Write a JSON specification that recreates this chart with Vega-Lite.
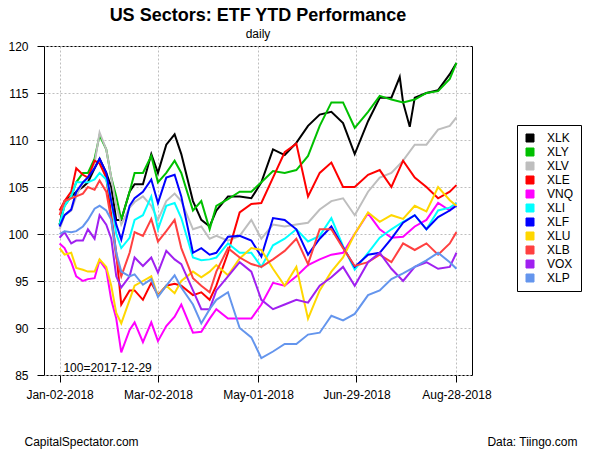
{
"$schema": "https://vega.github.io/schema/vega-lite/v6.json",
"width": 428, "height": 329,
"autosize": {"type": "none"},
"padding": {"left": 44, "top": 46, "right": 128, "bottom": 75},
"background": "white",
"config": {"font": "Liberation Sans", "view": {"stroke": "black", "strokeWidth": 1}},
"title": {"text": "US Sectors: ETF YTD Performance", "subtitle": "daily", "anchor": "middle", "fontSize": 18, "fontWeight": "bold", "color": "black", "subtitleFontSize": 12, "subtitleColor": "black", "subtitlePadding": 4, "offset": 0},
"layer": [
{
"data": {"values": [
{"d":"2018-01-02","s":"XLK","v":101},{"d":"2018-01-05","s":"XLK","v":103.5},{"d":"2018-01-09","s":"XLK","v":104},{"d":"2018-01-12","s":"XLK","v":104.5},{"d":"2018-01-16","s":"XLK","v":105},{"d":"2018-01-19","s":"XLK","v":105.5},{"d":"2018-01-23","s":"XLK","v":107},{"d":"2018-01-26","s":"XLK","v":108},{"d":"2018-01-30","s":"XLK","v":106.5},{"d":"2018-02-02","s":"XLK","v":105},{"d":"2018-02-05","s":"XLK","v":101.5},{"d":"2018-02-08","s":"XLK","v":101.5},{"d":"2018-02-13","s":"XLK","v":104.5},{"d":"2018-02-16","s":"XLK","v":105.3},{"d":"2018-02-21","s":"XLK","v":105.3},{"d":"2018-02-26","s":"XLK","v":108.5},{"d":"2018-03-02","s":"XLK","v":106.5},{"d":"2018-03-07","s":"XLK","v":109.5},{"d":"2018-03-12","s":"XLK","v":110.6},{"d":"2018-03-16","s":"XLK","v":108.5},{"d":"2018-03-23","s":"XLK","v":103.5},{"d":"2018-03-28","s":"XLK","v":101.5},{"d":"2018-04-02","s":"XLK","v":100.8},{"d":"2018-04-06","s":"XLK","v":102.5},{"d":"2018-04-13","s":"XLK","v":104},{"d":"2018-04-20","s":"XLK","v":104},{"d":"2018-04-27","s":"XLK","v":103.8},{"d":"2018-05-03","s":"XLK","v":105.5},{"d":"2018-05-10","s":"XLK","v":109},{"d":"2018-05-17","s":"XLK","v":108.4},{"d":"2018-05-24","s":"XLK","v":109.7},{"d":"2018-05-31","s":"XLK","v":111.5},{"d":"2018-06-07","s":"XLK","v":112.7},{"d":"2018-06-14","s":"XLK","v":113},{"d":"2018-06-21","s":"XLK","v":111.8},{"d":"2018-06-28","s":"XLK","v":108.5},{"d":"2018-07-06","s":"XLK","v":112},{"d":"2018-07-13","s":"XLK","v":114.5},{"d":"2018-07-20","s":"XLK","v":114.5},{"d":"2018-07-25","s":"XLK","v":116.7},{"d":"2018-07-27","s":"XLK","v":114},{"d":"2018-07-31","s":"XLK","v":111.4},{"d":"2018-08-03","s":"XLK","v":114.5},{"d":"2018-08-10","s":"XLK","v":115},{"d":"2018-08-17","s":"XLK","v":115.3},{"d":"2018-08-24","s":"XLK","v":117},{"d":"2018-08-28","s":"XLK","v":118.2},
{"d":"2018-01-02","s":"XLY","v":101},{"d":"2018-01-05","s":"XLY","v":103},{"d":"2018-01-09","s":"XLY","v":104},{"d":"2018-01-12","s":"XLY","v":105.5},{"d":"2018-01-16","s":"XLY","v":106.5},{"d":"2018-01-19","s":"XLY","v":106.5},{"d":"2018-01-23","s":"XLY","v":108},{"d":"2018-01-26","s":"XLY","v":110.5},{"d":"2018-01-30","s":"XLY","v":109},{"d":"2018-02-02","s":"XLY","v":106},{"d":"2018-02-05","s":"XLY","v":104},{"d":"2018-02-08","s":"XLY","v":101.5},{"d":"2018-02-13","s":"XLY","v":104.5},{"d":"2018-02-16","s":"XLY","v":106.5},{"d":"2018-02-21","s":"XLY","v":106.5},{"d":"2018-02-26","s":"XLY","v":108.3},{"d":"2018-03-02","s":"XLY","v":105.5},{"d":"2018-03-07","s":"XLY","v":106.5},{"d":"2018-03-12","s":"XLY","v":107.8},{"d":"2018-03-16","s":"XLY","v":106.5},{"d":"2018-03-23","s":"XLY","v":102.5},{"d":"2018-03-28","s":"XLY","v":103.5},{"d":"2018-04-02","s":"XLY","v":100.5},{"d":"2018-04-06","s":"XLY","v":103},{"d":"2018-04-13","s":"XLY","v":103.7},{"d":"2018-04-20","s":"XLY","v":104.5},{"d":"2018-04-27","s":"XLY","v":104.5},{"d":"2018-05-03","s":"XLY","v":105.5},{"d":"2018-05-10","s":"XLY","v":106.7},{"d":"2018-05-17","s":"XLY","v":106.5},{"d":"2018-05-24","s":"XLY","v":106.8},{"d":"2018-05-31","s":"XLY","v":108.3},{"d":"2018-06-07","s":"XLY","v":111.5},{"d":"2018-06-14","s":"XLY","v":114},{"d":"2018-06-21","s":"XLY","v":114},{"d":"2018-06-28","s":"XLY","v":111.3},{"d":"2018-07-06","s":"XLY","v":113},{"d":"2018-07-13","s":"XLY","v":114.7},{"d":"2018-07-20","s":"XLY","v":114.3},{"d":"2018-07-27","s":"XLY","v":114},{"d":"2018-08-03","s":"XLY","v":114.3},{"d":"2018-08-10","s":"XLY","v":115},{"d":"2018-08-17","s":"XLY","v":115.2},{"d":"2018-08-24","s":"XLY","v":116.5},{"d":"2018-08-28","s":"XLY","v":118.2},
{"d":"2018-01-02","s":"XLV","v":100.5},{"d":"2018-01-05","s":"XLV","v":102},{"d":"2018-01-09","s":"XLV","v":102.5},{"d":"2018-01-12","s":"XLV","v":104},{"d":"2018-01-16","s":"XLV","v":105.5},{"d":"2018-01-19","s":"XLV","v":106},{"d":"2018-01-23","s":"XLV","v":107.5},{"d":"2018-01-26","s":"XLV","v":110.8},{"d":"2018-01-30","s":"XLV","v":109},{"d":"2018-02-02","s":"XLV","v":106},{"d":"2018-02-05","s":"XLV","v":103},{"d":"2018-02-08","s":"XLV","v":101},{"d":"2018-02-13","s":"XLV","v":102.8},{"d":"2018-02-16","s":"XLV","v":103.4},{"d":"2018-02-21","s":"XLV","v":104},{"d":"2018-02-26","s":"XLV","v":103},{"d":"2018-03-02","s":"XLV","v":101.5},{"d":"2018-03-07","s":"XLV","v":103.5},{"d":"2018-03-12","s":"XLV","v":104.3},{"d":"2018-03-16","s":"XLV","v":103.5},{"d":"2018-03-23","s":"XLV","v":100.5},{"d":"2018-03-28","s":"XLV","v":100.8},{"d":"2018-04-02","s":"XLV","v":99.5},{"d":"2018-04-06","s":"XLV","v":99.8},{"d":"2018-04-13","s":"XLV","v":99.3},{"d":"2018-04-20","s":"XLV","v":99.8},{"d":"2018-04-27","s":"XLV","v":101.5},{"d":"2018-05-03","s":"XLV","v":99.5},{"d":"2018-05-10","s":"XLV","v":101},{"d":"2018-05-17","s":"XLV","v":100.8},{"d":"2018-05-24","s":"XLV","v":101},{"d":"2018-05-31","s":"XLV","v":101.2},{"d":"2018-06-07","s":"XLV","v":102.6},{"d":"2018-06-14","s":"XLV","v":103.5},{"d":"2018-06-21","s":"XLV","v":103.8},{"d":"2018-06-28","s":"XLV","v":102},{"d":"2018-07-06","s":"XLV","v":104.5},{"d":"2018-07-13","s":"XLV","v":106},{"d":"2018-07-20","s":"XLV","v":106.5},{"d":"2018-07-27","s":"XLV","v":107.8},{"d":"2018-08-03","s":"XLV","v":109.5},{"d":"2018-08-10","s":"XLV","v":109.5},{"d":"2018-08-17","s":"XLV","v":111.1},{"d":"2018-08-24","s":"XLV","v":111.5},{"d":"2018-08-28","s":"XLV","v":112.4},
{"d":"2018-01-02","s":"XLE","v":102.5},{"d":"2018-01-05","s":"XLE","v":103.5},{"d":"2018-01-09","s":"XLE","v":104.5},{"d":"2018-01-12","s":"XLE","v":107},{"d":"2018-01-16","s":"XLE","v":106.3},{"d":"2018-01-19","s":"XLE","v":106},{"d":"2018-01-23","s":"XLE","v":107.8},{"d":"2018-01-26","s":"XLE","v":107.5},{"d":"2018-01-30","s":"XLE","v":106},{"d":"2018-02-02","s":"XLE","v":102},{"d":"2018-02-05","s":"XLE","v":98},{"d":"2018-02-08","s":"XLE","v":92.5},{"d":"2018-02-13","s":"XLE","v":94},{"d":"2018-02-16","s":"XLE","v":94},{"d":"2018-02-21","s":"XLE","v":93},{"d":"2018-02-26","s":"XLE","v":94.8},{"d":"2018-03-02","s":"XLE","v":93.5},{"d":"2018-03-07","s":"XLE","v":94.5},{"d":"2018-03-12","s":"XLE","v":94.7},{"d":"2018-03-16","s":"XLE","v":94.5},{"d":"2018-03-23","s":"XLE","v":93.5},{"d":"2018-03-28","s":"XLE","v":93.8},{"d":"2018-04-02","s":"XLE","v":93},{"d":"2018-04-06","s":"XLE","v":94.5},{"d":"2018-04-13","s":"XLE","v":98},{"d":"2018-04-20","s":"XLE","v":102.3},{"d":"2018-04-27","s":"XLE","v":103.2},{"d":"2018-05-03","s":"XLE","v":103.3},{"d":"2018-05-10","s":"XLE","v":106},{"d":"2018-05-17","s":"XLE","v":108.7},{"d":"2018-05-24","s":"XLE","v":109.6},{"d":"2018-05-31","s":"XLE","v":104},{"d":"2018-06-07","s":"XLE","v":106.5},{"d":"2018-06-14","s":"XLE","v":107.6},{"d":"2018-06-21","s":"XLE","v":105},{"d":"2018-06-28","s":"XLE","v":105},{"d":"2018-07-06","s":"XLE","v":106.3},{"d":"2018-07-13","s":"XLE","v":106.8},{"d":"2018-07-20","s":"XLE","v":105},{"d":"2018-07-27","s":"XLE","v":107.8},{"d":"2018-08-03","s":"XLE","v":106},{"d":"2018-08-10","s":"XLE","v":105},{"d":"2018-08-17","s":"XLE","v":103.8},{"d":"2018-08-24","s":"XLE","v":104.5},{"d":"2018-08-28","s":"XLE","v":105.2},
{"d":"2018-01-02","s":"VNQ","v":99},{"d":"2018-01-05","s":"VNQ","v":98.5},{"d":"2018-01-09","s":"VNQ","v":97},{"d":"2018-01-12","s":"VNQ","v":95.5},{"d":"2018-01-16","s":"VNQ","v":95},{"d":"2018-01-19","s":"VNQ","v":95.2},{"d":"2018-01-23","s":"VNQ","v":95.3},{"d":"2018-01-26","s":"VNQ","v":97.2},{"d":"2018-01-30","s":"VNQ","v":96.2},{"d":"2018-02-02","s":"VNQ","v":93},{"d":"2018-02-05","s":"VNQ","v":91},{"d":"2018-02-08","s":"VNQ","v":87.4},{"d":"2018-02-13","s":"VNQ","v":89.8},{"d":"2018-02-16","s":"VNQ","v":90.6},{"d":"2018-02-21","s":"VNQ","v":88.5},{"d":"2018-02-26","s":"VNQ","v":90.6},{"d":"2018-03-02","s":"VNQ","v":88.6},{"d":"2018-03-07","s":"VNQ","v":90.2},{"d":"2018-03-12","s":"VNQ","v":91.2},{"d":"2018-03-16","s":"VNQ","v":92.5},{"d":"2018-03-23","s":"VNQ","v":89.5},{"d":"2018-03-28","s":"VNQ","v":89.6},{"d":"2018-04-02","s":"VNQ","v":91},{"d":"2018-04-06","s":"VNQ","v":92},{"d":"2018-04-13","s":"VNQ","v":91},{"d":"2018-04-20","s":"VNQ","v":91},{"d":"2018-04-27","s":"VNQ","v":91},{"d":"2018-05-03","s":"VNQ","v":92.5},{"d":"2018-05-10","s":"VNQ","v":94.8},{"d":"2018-05-17","s":"VNQ","v":94.5},{"d":"2018-05-24","s":"VNQ","v":95.5},{"d":"2018-05-31","s":"VNQ","v":96.7},{"d":"2018-06-07","s":"VNQ","v":97.3},{"d":"2018-06-14","s":"VNQ","v":97.8},{"d":"2018-06-21","s":"VNQ","v":98},{"d":"2018-06-28","s":"VNQ","v":100},{"d":"2018-07-06","s":"VNQ","v":102.2},{"d":"2018-07-13","s":"VNQ","v":100.5},{"d":"2018-07-20","s":"VNQ","v":99.6},{"d":"2018-07-27","s":"VNQ","v":99.7},{"d":"2018-08-03","s":"VNQ","v":100.8},{"d":"2018-08-10","s":"VNQ","v":101.5},{"d":"2018-08-17","s":"VNQ","v":103.3},{"d":"2018-08-24","s":"VNQ","v":102.5},{"d":"2018-08-28","s":"VNQ","v":103.3},
{"d":"2018-01-02","s":"XLI","v":101},{"d":"2018-01-05","s":"XLI","v":103},{"d":"2018-01-09","s":"XLI","v":104},{"d":"2018-01-12","s":"XLI","v":105.5},{"d":"2018-01-16","s":"XLI","v":105.5},{"d":"2018-01-19","s":"XLI","v":105.5},{"d":"2018-01-23","s":"XLI","v":105.8},{"d":"2018-01-26","s":"XLI","v":106.5},{"d":"2018-01-30","s":"XLI","v":105.8},{"d":"2018-02-02","s":"XLI","v":103.5},{"d":"2018-02-05","s":"XLI","v":100},{"d":"2018-02-08","s":"XLI","v":98.5},{"d":"2018-02-13","s":"XLI","v":99.6},{"d":"2018-02-16","s":"XLI","v":101.5},{"d":"2018-02-21","s":"XLI","v":102},{"d":"2018-02-26","s":"XLI","v":104},{"d":"2018-03-02","s":"XLI","v":100.5},{"d":"2018-03-07","s":"XLI","v":103},{"d":"2018-03-12","s":"XLI","v":103.3},{"d":"2018-03-16","s":"XLI","v":101.7},{"d":"2018-03-23","s":"XLI","v":97.5},{"d":"2018-03-28","s":"XLI","v":97.2},{"d":"2018-04-02","s":"XLI","v":97.3},{"d":"2018-04-06","s":"XLI","v":97.5},{"d":"2018-04-13","s":"XLI","v":99},{"d":"2018-04-20","s":"XLI","v":98},{"d":"2018-04-27","s":"XLI","v":98},{"d":"2018-05-03","s":"XLI","v":96.5},{"d":"2018-05-10","s":"XLI","v":98.8},{"d":"2018-05-17","s":"XLI","v":99.5},{"d":"2018-05-24","s":"XLI","v":100.5},{"d":"2018-05-31","s":"XLI","v":99.2},{"d":"2018-06-07","s":"XLI","v":99.8},{"d":"2018-06-14","s":"XLI","v":101.7},{"d":"2018-06-21","s":"XLI","v":98.7},{"d":"2018-06-28","s":"XLI","v":96.2},{"d":"2018-07-06","s":"XLI","v":98},{"d":"2018-07-13","s":"XLI","v":99.6},{"d":"2018-07-20","s":"XLI","v":100.5},{"d":"2018-07-27","s":"XLI","v":101.3},{"d":"2018-08-03","s":"XLI","v":102},{"d":"2018-08-10","s":"XLI","v":100.5},{"d":"2018-08-17","s":"XLI","v":102.5},{"d":"2018-08-24","s":"XLI","v":102.8},{"d":"2018-08-28","s":"XLI","v":103.3},
{"d":"2018-01-02","s":"XLF","v":100.8},{"d":"2018-01-05","s":"XLF","v":102},{"d":"2018-01-09","s":"XLF","v":102.6},{"d":"2018-01-12","s":"XLF","v":104.5},{"d":"2018-01-16","s":"XLF","v":105.5},{"d":"2018-01-19","s":"XLF","v":106},{"d":"2018-01-23","s":"XLF","v":107},{"d":"2018-01-26","s":"XLF","v":108},{"d":"2018-01-30","s":"XLF","v":106.5},{"d":"2018-02-02","s":"XLF","v":103.5},{"d":"2018-02-05","s":"XLF","v":101},{"d":"2018-02-08","s":"XLF","v":99.4},{"d":"2018-02-13","s":"XLF","v":103},{"d":"2018-02-16","s":"XLF","v":103.8},{"d":"2018-02-21","s":"XLF","v":104.5},{"d":"2018-02-26","s":"XLF","v":105.8},{"d":"2018-03-02","s":"XLF","v":103.3},{"d":"2018-03-07","s":"XLF","v":106},{"d":"2018-03-12","s":"XLF","v":106.3},{"d":"2018-03-16","s":"XLF","v":104},{"d":"2018-03-23","s":"XLF","v":98},{"d":"2018-03-28","s":"XLF","v":98.5},{"d":"2018-04-02","s":"XLF","v":97.8},{"d":"2018-04-06","s":"XLF","v":98},{"d":"2018-04-13","s":"XLF","v":99.7},{"d":"2018-04-20","s":"XLF","v":99.8},{"d":"2018-04-27","s":"XLF","v":99.3},{"d":"2018-05-03","s":"XLF","v":97.6},{"d":"2018-05-10","s":"XLF","v":101.7},{"d":"2018-05-17","s":"XLF","v":101.5},{"d":"2018-05-24","s":"XLF","v":100.5},{"d":"2018-05-31","s":"XLF","v":97.8},{"d":"2018-06-07","s":"XLF","v":99.5},{"d":"2018-06-14","s":"XLF","v":100.8},{"d":"2018-06-21","s":"XLF","v":98.6},{"d":"2018-06-28","s":"XLF","v":96.5},{"d":"2018-07-06","s":"XLF","v":97.8},{"d":"2018-07-13","s":"XLF","v":98},{"d":"2018-07-20","s":"XLF","v":99.5},{"d":"2018-07-27","s":"XLF","v":101.2},{"d":"2018-08-03","s":"XLF","v":102},{"d":"2018-08-10","s":"XLF","v":100.5},{"d":"2018-08-17","s":"XLF","v":101.8},{"d":"2018-08-24","s":"XLF","v":102.5},{"d":"2018-08-28","s":"XLF","v":103},
{"d":"2018-01-02","s":"XLU","v":98.5},{"d":"2018-01-05","s":"XLU","v":97.8},{"d":"2018-01-09","s":"XLU","v":98},{"d":"2018-01-12","s":"XLU","v":96.4},{"d":"2018-01-16","s":"XLU","v":96.2},{"d":"2018-01-19","s":"XLU","v":96},{"d":"2018-01-23","s":"XLU","v":96},{"d":"2018-01-26","s":"XLU","v":97.3},{"d":"2018-01-30","s":"XLU","v":96.5},{"d":"2018-02-02","s":"XLU","v":94.5},{"d":"2018-02-05","s":"XLU","v":91.6},{"d":"2018-02-08","s":"XLU","v":90.5},{"d":"2018-02-13","s":"XLU","v":93},{"d":"2018-02-16","s":"XLU","v":94.5},{"d":"2018-02-21","s":"XLU","v":95},{"d":"2018-02-26","s":"XLU","v":95.5},{"d":"2018-03-02","s":"XLU","v":93.4},{"d":"2018-03-07","s":"XLU","v":94.5},{"d":"2018-03-12","s":"XLU","v":93.7},{"d":"2018-03-16","s":"XLU","v":95},{"d":"2018-03-23","s":"XLU","v":96},{"d":"2018-03-28","s":"XLU","v":95.4},{"d":"2018-04-02","s":"XLU","v":96},{"d":"2018-04-06","s":"XLU","v":96.7},{"d":"2018-04-13","s":"XLU","v":95.6},{"d":"2018-04-20","s":"XLU","v":97.4},{"d":"2018-04-27","s":"XLU","v":98.5},{"d":"2018-05-03","s":"XLU","v":98.3},{"d":"2018-05-10","s":"XLU","v":96.3},{"d":"2018-05-17","s":"XLU","v":94.5},{"d":"2018-05-24","s":"XLU","v":96.5},{"d":"2018-05-31","s":"XLU","v":91},{"d":"2018-06-07","s":"XLU","v":94},{"d":"2018-06-14","s":"XLU","v":96},{"d":"2018-06-21","s":"XLU","v":97.5},{"d":"2018-06-28","s":"XLU","v":100},{"d":"2018-07-06","s":"XLU","v":102.3},{"d":"2018-07-13","s":"XLU","v":101.3},{"d":"2018-07-20","s":"XLU","v":102},{"d":"2018-07-27","s":"XLU","v":101.6},{"d":"2018-08-03","s":"XLU","v":103},{"d":"2018-08-10","s":"XLU","v":102.4},{"d":"2018-08-17","s":"XLU","v":105},{"d":"2018-08-24","s":"XLU","v":103.6},{"d":"2018-08-28","s":"XLU","v":103},
{"d":"2018-01-02","s":"XLB","v":102},{"d":"2018-01-05","s":"XLB","v":103.5},{"d":"2018-01-09","s":"XLB","v":103.8},{"d":"2018-01-12","s":"XLB","v":104},{"d":"2018-01-16","s":"XLB","v":104.3},{"d":"2018-01-19","s":"XLB","v":105},{"d":"2018-01-23","s":"XLB","v":104.7},{"d":"2018-01-26","s":"XLB","v":105.7},{"d":"2018-01-30","s":"XLB","v":104.5},{"d":"2018-02-02","s":"XLB","v":101.5},{"d":"2018-02-05","s":"XLB","v":97.5},{"d":"2018-02-08","s":"XLB","v":95.5},{"d":"2018-02-13","s":"XLB","v":98},{"d":"2018-02-16","s":"XLB","v":100.2},{"d":"2018-02-21","s":"XLB","v":99.8},{"d":"2018-02-26","s":"XLB","v":101.6},{"d":"2018-03-02","s":"XLB","v":99.2},{"d":"2018-03-07","s":"XLB","v":100.3},{"d":"2018-03-12","s":"XLB","v":101.5},{"d":"2018-03-16","s":"XLB","v":98.5},{"d":"2018-03-23","s":"XLB","v":95.3},{"d":"2018-03-28","s":"XLB","v":94.5},{"d":"2018-04-02","s":"XLB","v":93.8},{"d":"2018-04-06","s":"XLB","v":96},{"d":"2018-04-13","s":"XLB","v":98.5},{"d":"2018-04-20","s":"XLB","v":97.5},{"d":"2018-04-27","s":"XLB","v":96.8},{"d":"2018-05-03","s":"XLB","v":96.5},{"d":"2018-05-10","s":"XLB","v":97.3},{"d":"2018-05-17","s":"XLB","v":98.2},{"d":"2018-05-24","s":"XLB","v":99.5},{"d":"2018-05-31","s":"XLB","v":96.8},{"d":"2018-06-07","s":"XLB","v":100.5},{"d":"2018-06-14","s":"XLB","v":100.5},{"d":"2018-06-21","s":"XLB","v":98.5},{"d":"2018-06-28","s":"XLB","v":96.6},{"d":"2018-07-06","s":"XLB","v":97},{"d":"2018-07-13","s":"XLB","v":97.8},{"d":"2018-07-20","s":"XLB","v":97},{"d":"2018-07-27","s":"XLB","v":99},{"d":"2018-08-03","s":"XLB","v":98.3},{"d":"2018-08-10","s":"XLB","v":99},{"d":"2018-08-17","s":"XLB","v":97.8},{"d":"2018-08-24","s":"XLB","v":99},{"d":"2018-08-28","s":"XLB","v":100.2},
{"d":"2018-01-02","s":"VOX","v":99.6},{"d":"2018-01-05","s":"VOX","v":100.2},{"d":"2018-01-09","s":"VOX","v":99},{"d":"2018-01-12","s":"VOX","v":99.3},{"d":"2018-01-16","s":"VOX","v":99.3},{"d":"2018-01-19","s":"VOX","v":100.5},{"d":"2018-01-23","s":"VOX","v":99.5},{"d":"2018-01-26","s":"VOX","v":102},{"d":"2018-01-30","s":"VOX","v":101},{"d":"2018-02-02","s":"VOX","v":99.5},{"d":"2018-02-05","s":"VOX","v":95.5},{"d":"2018-02-08","s":"VOX","v":94.3},{"d":"2018-02-13","s":"VOX","v":95.5},{"d":"2018-02-16","s":"VOX","v":97.5},{"d":"2018-02-21","s":"VOX","v":96.6},{"d":"2018-02-26","s":"VOX","v":97.5},{"d":"2018-03-02","s":"VOX","v":95.9},{"d":"2018-03-07","s":"VOX","v":98.2},{"d":"2018-03-12","s":"VOX","v":97.3},{"d":"2018-03-16","s":"VOX","v":96.8},{"d":"2018-03-23","s":"VOX","v":94},{"d":"2018-03-28","s":"VOX","v":92},{"d":"2018-04-02","s":"VOX","v":92},{"d":"2018-04-06","s":"VOX","v":94},{"d":"2018-04-13","s":"VOX","v":95.5},{"d":"2018-04-20","s":"VOX","v":97},{"d":"2018-04-27","s":"VOX","v":96},{"d":"2018-05-03","s":"VOX","v":93},{"d":"2018-05-10","s":"VOX","v":92},{"d":"2018-05-17","s":"VOX","v":92.5},{"d":"2018-05-24","s":"VOX","v":93},{"d":"2018-05-31","s":"VOX","v":92.7},{"d":"2018-06-07","s":"VOX","v":94.5},{"d":"2018-06-14","s":"VOX","v":95.4},{"d":"2018-06-21","s":"VOX","v":96.5},{"d":"2018-06-28","s":"VOX","v":94.5},{"d":"2018-07-06","s":"VOX","v":97},{"d":"2018-07-13","s":"VOX","v":98},{"d":"2018-07-20","s":"VOX","v":96.3},{"d":"2018-07-27","s":"VOX","v":95},{"d":"2018-08-03","s":"VOX","v":96.5},{"d":"2018-08-10","s":"VOX","v":97},{"d":"2018-08-17","s":"VOX","v":96.3},{"d":"2018-08-24","s":"VOX","v":96.5},{"d":"2018-08-28","s":"VOX","v":98},
{"d":"2018-01-02","s":"XLP","v":100},{"d":"2018-01-05","s":"XLP","v":100.3},{"d":"2018-01-09","s":"XLP","v":100.2},{"d":"2018-01-12","s":"XLP","v":100.3},{"d":"2018-01-16","s":"XLP","v":100.8},{"d":"2018-01-19","s":"XLP","v":101.5},{"d":"2018-01-23","s":"XLP","v":102.7},{"d":"2018-01-26","s":"XLP","v":103},{"d":"2018-01-30","s":"XLP","v":102.5},{"d":"2018-02-02","s":"XLP","v":101.5},{"d":"2018-02-05","s":"XLP","v":98},{"d":"2018-02-08","s":"XLP","v":96},{"d":"2018-02-13","s":"XLP","v":95.5},{"d":"2018-02-16","s":"XLP","v":95.7},{"d":"2018-02-21","s":"XLP","v":94.6},{"d":"2018-02-26","s":"XLP","v":95.2},{"d":"2018-03-02","s":"XLP","v":93.3},{"d":"2018-03-07","s":"XLP","v":94.5},{"d":"2018-03-12","s":"XLP","v":95.6},{"d":"2018-03-16","s":"XLP","v":94.3},{"d":"2018-03-23","s":"XLP","v":92.5},{"d":"2018-03-28","s":"XLP","v":90.5},{"d":"2018-04-02","s":"XLP","v":92},{"d":"2018-04-06","s":"XLP","v":93},{"d":"2018-04-13","s":"XLP","v":93.8},{"d":"2018-04-20","s":"XLP","v":90},{"d":"2018-04-27","s":"XLP","v":89},{"d":"2018-05-03","s":"XLP","v":86.8},{"d":"2018-05-10","s":"XLP","v":87.5},{"d":"2018-05-17","s":"XLP","v":88.3},{"d":"2018-05-24","s":"XLP","v":88.3},{"d":"2018-05-31","s":"XLP","v":89.3},{"d":"2018-06-07","s":"XLP","v":89.5},{"d":"2018-06-14","s":"XLP","v":91.3},{"d":"2018-06-21","s":"XLP","v":90.8},{"d":"2018-06-28","s":"XLP","v":91.5},{"d":"2018-07-06","s":"XLP","v":93.5},{"d":"2018-07-13","s":"XLP","v":94},{"d":"2018-07-20","s":"XLP","v":95.2},{"d":"2018-07-27","s":"XLP","v":95.8},{"d":"2018-08-03","s":"XLP","v":96.5},{"d":"2018-08-10","s":"XLP","v":97.2},{"d":"2018-08-17","s":"XLP","v":98},{"d":"2018-08-24","s":"XLP","v":97},{"d":"2018-08-28","s":"XLP","v":96.3}
]},
"mark": {"type": "line", "strokeWidth": 2},
"encoding": {
"x": {"field": "d", "type": "temporal",
 "scale": {"type": "utc", "domain": [{"year": 2017, "month": 12, "date": 23, "hours": 16, "utc": true}, {"year": 2018, "month": 9, "date": 6, "hours": 8, "utc": true}]},
 "axis": {"values": [{"year": 2018, "month": 1, "date": 2, "utc": true}, {"year": 2018, "month": 3, "date": 2, "utc": true}, {"year": 2018, "month": 5, "date": 1, "utc": true}, {"year": 2018, "month": 6, "date": 29, "utc": true}, {"year": 2018, "month": 8, "date": 28, "utc": true}],
  "labelExpr": "utcFormat(datum.value, '%b-%d-%Y')", "labelFontSize": 12, "labelColor": "black", "labelPadding": 7, "labelFlush": false, "labelOverlap": false,
  "tickSize": 7, "tickColor": "black", "domain": false,
  "grid": true, "gridColor": "#BEBEBE", "gridDash": [2, 2], "gridWidth": 1,
  "title": "CapitalSpectator.com", "titleX": -20, "titleY": 70, "titleAlign": "left", "titleAnchor": "start", "titleBaseline": "alphabetic", "titleFontWeight": "normal", "titleFontSize": 12, "titleColor": "black"}},
"y": {"field": "v", "type": "quantitative",
 "scale": {"domain": [85, 120], "nice": false, "zero": false},
 "axis": {"values": [85, 90, 95, 100, 105, 110, 115, 120], "labelFontSize": 12, "labelColor": "black", "labelPadding": 9, "labelFlush": false, "labelOverlap": false,
  "tickSize": 7, "tickColor": "black", "domain": false,
  "grid": true, "gridColor": "#BEBEBE", "gridDash": [2, 2], "gridWidth": 1, "title": null}},
"color": {"field": "s", "type": "nominal",
 "scale": {"domain": ["XLK", "XLY", "XLV", "XLE", "VNQ", "XLI", "XLF", "XLU", "XLB", "VOX", "XLP"],
  "range": ["#000000", "#00C000", "#BEBEBE", "#FF0000", "#FF00FF", "#00FFFF", "#0000FF", "#FFD700", "#FF4040", "#A020F0", "#6495ED"]},
 "legend": {"title": null, "orient": "none", "legendX": 473, "legendY": 79, "strokeColor": "black", "fillColor": "white", "padding": 7,
  "symbolType": "square", "symbolSize": 64, "symbolStrokeColor": "black", "symbolStrokeWidth": 1,
  "labelFontSize": 12, "labelColor": "black", "labelOffset": 11, "rowPadding": 2,
  "encode": {"symbols": {"update": {"fill": {"scale": "color", "field": "value"}, "stroke": {"value": "black"}, "strokeWidth": {"value": 1}, "opacity": {"value": 1}}}}}}
}
},
{
"data": {"values": [{"note": "100=2017-12-29"}]},
"mark": {"type": "text", "align": "left", "baseline": "middle", "fontSize": 12, "color": "black"},
"encoding": {
"x": {"datum": {"year": 2018, "month": 1, "date": 4, "hours": 7, "utc": true}, "type": "temporal"},
"y": {"datum": 85.74, "type": "quantitative", "scale": {"domain": [85, 120], "nice": false, "zero": false},
 "axis": {"orient": "right", "labels": false, "ticks": false, "domain": false, "grid": false,
  "title": "Data: Tiingo.com", "titleAngle": 0, "titleX": 105, "titleY": 399, "titleAlign": "right", "titleBaseline": "alphabetic", "titleFontWeight": "normal", "titleFontSize": 12, "titleColor": "black"}},
"text": {"field": "note"}
}
}
],
"resolve": {"scale": {"y": "independent"}}
}
